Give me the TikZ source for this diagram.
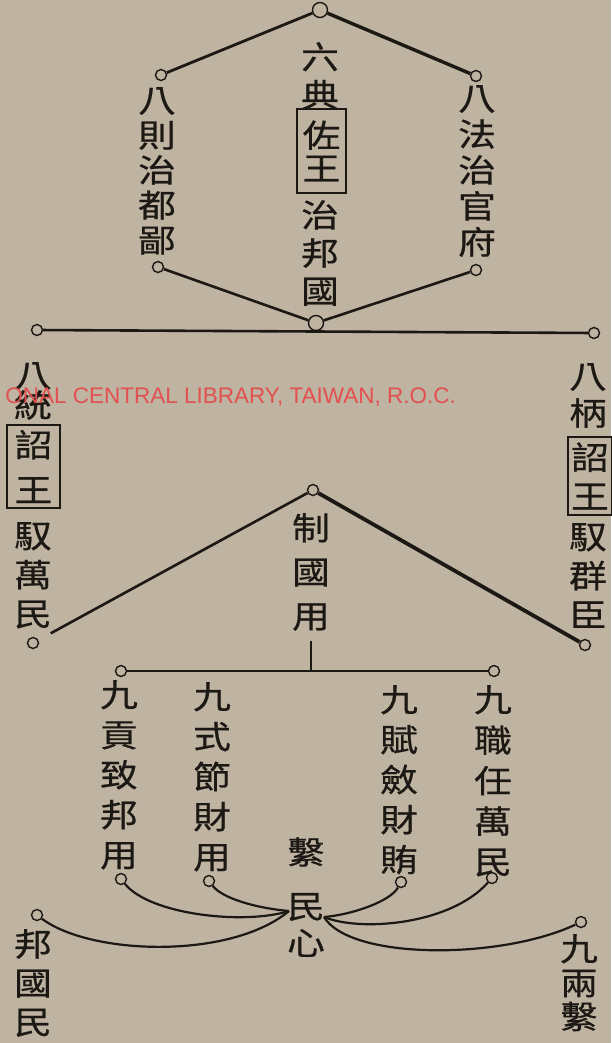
\documentclass[tikz,border=0pt]{standalone}
\usepackage{fontspec}
\usepackage{tikz}
\usetikzlibrary{calc,positioning}
\newfontfamily\cjk[FakeStretch=1.18, FakeBold=0.6]{Noto Sans CJK TC}
\newfontfamily\wmark{Liberation Sans}
\definecolor{paper}{RGB}{191,179,161}
\definecolor{ink}{RGB}{28,24,20}
\definecolor{stamp}{RGB}{226,80,80}
\def\vs#1{\cjk\fontsize{32}{#1}\selectfont}

\tikzset{
	dot/.style={circle, draw=ink, fill=paper, line width=1.4pt, inner sep=0pt, minimum size=11pt},
	bigdot/.style={dot, minimum size=15pt},
	col/.style={text=ink, align=center, inner sep=0pt, anchor=north},
	wangbox/.style={draw=ink, line width=1.3pt, text=ink, align=center, inner sep=0pt},
	rope/.style={draw=ink, line width=#1},
	rope/.default=2pt,
}

\begin{document}
\begin{tikzpicture}[x=1pt, y=-1pt]
			%%%%% START %%%%%
			\fill[paper] (0,0) rectangle (611,1043);
			\useasboundingbox (0,0) rectangle (611,1043);
			
			% top hexagon
			\node[bigdot] (top) at (320,10) {};
			\node[dot] (ul) at (161,75) {};
			\node[dot] (ur) at (476,76) {};
			\node[dot] (ll) at (158,267) {};
			\node[dot] (lr) at (476,270) {};
			\node[bigdot] (bc) at (316,323) {};
			\draw[rope=2.8pt] (top) -- (ul);
			\draw[rope=3.4pt] (top) -- (ur);
			\draw[rope=2.6pt] (ll) -- (bc);
			\draw[rope=2.6pt] (lr) -- (bc);
			
			\node[col, font=\vs{38}] (liudian) at (320,42) {六\\典};
			\node[wangbox, font=\vs{33}, minimum width=49pt, minimum height=84pt] (zuowang) at (321.5,151) {佐\\王};
			\node[col, font=\vs{38}] (zhibang) at (320,200) {治\\邦\\國};
			\node[col, font=\vs{35}] (bazhe) at (157,87) {八\\則\\治\\都\\鄙};
			\node[col, font=\vs{36}] (bafa) at (477,85) {八\\法\\治\\官\\府};
			
			% long bar
			\node[dot] (hl) at (37,330) {};
			\node[dot] (hr) at (594,333) {};
			\draw[rope=2.6pt] (hl) -- (hr);
			
			% middle wedge
			\node[dot] (apex) at (313,490) {};
			\node[dot] (lm) at (33,643) {};
			\node[dot] (rm) at (585,645) {};
			\draw[rope=2.6pt, shorten >=14pt] (apex) -- (lm);
			\draw[rope=3.8pt] (apex) -- (rm);
			
			\node[col, font=\vs{30}] (batong) at (33,362) {八\\統};
			\node[wangbox, font=\vs{45}, minimum width=53pt, minimum height=83pt] (zhaol) at (33.5,466.5) {詔\\王};
			\node[col, font=\vs{39}] (yuwan) at (33,522) {馭\\萬\\民};
			\node[col, font=\vs{37}] (babing) at (588,363) {八\\柄};
			\node[wangbox, font=\vs{39}, minimum width=44pt, minimum height=78pt] (zhaor) at (590,476) {詔\\王};
			\node[col, font=\vs{39}] (yuqun) at (588,523) {馭\\群\\臣};
			\node[col, font=\vs{44}] (zhiguo) at (311,513) {制\\國\\用};
			
			% lower bar
			\coordinate (jn) at (311,672);
			\draw[rope=1.4pt, shorten <=10pt] (zhiguo) -- (jn);
			\node[dot] (gl) at (121,671) {};
			\node[dot] (gr) at (494,671) {};
			\draw[rope=2.3pt] (gl) -- (gr);
			
			\node[col, font=\vs{40}] (jiugong) at (119,680) {九\\貢\\致\\邦\\用};
			\node[col, font=\vs{40}] (jiushi) at (212,682) {九\\式\\節\\財\\用};
			\node[col, font=\vs{40}] (jiufu) at (399,685) {九\\賦\\斂\\財\\賄};
			\node[col, font=\vs{40.5}] (jiuzhi) at (493,685) {九\\職\\任\\萬\\民};
			
			% tie to the heart of the people
			\node[text=ink, inner sep=0pt, font=\vs{30}] (xi) at (306,852) {繫};
			\node[text=ink, inner sep=0pt, font=\vs{30}] (min) at (306,907) {民};
			\node[text=ink, inner sep=0pt, font=\vs{30}] (xin) at (306,943) {心};
			\coordinate (mw) at (289,911);
			\coordinate (me) at (324,917);
			
			\node[dot] (gd) at (121,879) {};
			\node[dot] (sd) at (209,881) {};
			\node[dot] (fd) at (401,882) {};
			\node[dot] (zd) at (492,878) {};
			\node[dot] (bd) at (37,915) {};
			\node[dot] (ld) at (581,922) {};
			\draw[rope=2.2pt] (gd) .. controls (150,915) and (245,925) .. (mw);
			\draw[rope=2.2pt] (sd) .. controls (222,898) and (255,908) .. (mw);
			\draw[rope=2.2pt] (bd) .. controls (90,955) and (230,960) .. (mw);
			\draw[rope=2.2pt] (me) .. controls (350,915) and (390,902) .. (fd);
			\draw[rope=2.2pt] (me) .. controls (360,932) and (450,925) .. (zd);
			\draw[rope=2.2pt] (me) .. controls (350,960) and (500,960) .. (ld);
			
			\node[col, font=\vs{39}] (bangmin) at (33,929) {邦\\國\\民};
			\node[col, font=\vs{34}] (jiuliang) at (579,934) {九\\兩\\繫};
			
			% library stamp
			\node[anchor=base east, inner sep=0pt, text=stamp, font=\wmark\fontsize{22.5}{22.5}\selectfont] (seal) at (456,403) {ONAL CENTRAL LIBRARY, TAIWAN, R.O.C.};
			%%%%% END %%%%%
\end{tikzpicture}
\end{document}
